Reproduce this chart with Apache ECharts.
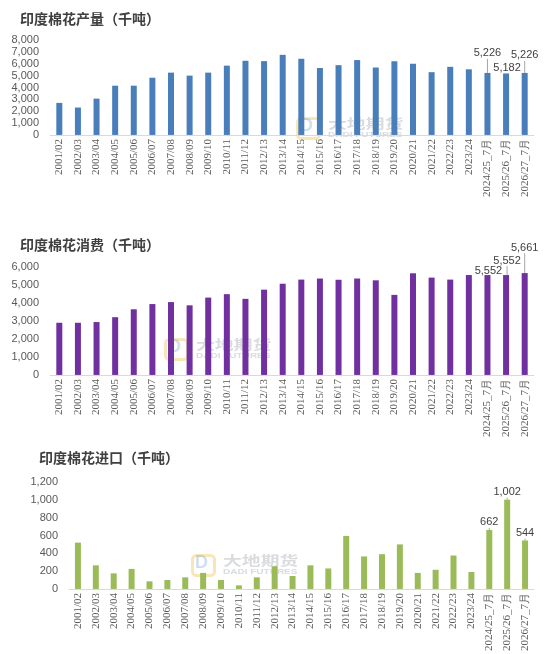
<!DOCTYPE html>
<html>
<head>
    <meta charset="utf-8">
    <title>印度棉花</title>
    <style type="text/css">
        body { margin: 0; background: #ffffff; }
        .box { position: absolute; left: 0; width: 550px; overflow: hidden; }
        #c1 { top: 0; height: 200px; }
        #c2 { top: 200px; height: 240px; }
        #c3 { top: 440px; height: 214px; }
    </style>
    <script src="https://cdn.jsdelivr.net/npm/echarts@6/dist/echarts.min.js"></script>
</head>
<body>
<div id="c1" class="box"></div>
<div id="c2" class="box"></div>
<div id="c3" class="box"></div>

<script>
    // 年度
    var seasons = ['2001/02','2002/03','2003/04','2004/05','2005/06','2006/07','2007/08','2008/09',
        '2009/10','2010/11','2011/12','2012/13','2013/14','2014/15','2015/16','2016/17','2017/18',
        '2018/19','2019/20','2020/21','2021/22','2022/23','2023/24','2024/25_7月','2025/26_7月','2026/27_7月'];

    // 产量（千吨）
    var production = [2700,2310,3060,4150,4150,4820,5250,5000,5250,5840,6250,6220,
        6750,6420,5640,5880,6310,5680,6210,6000,5290,5740,5530,5226,5182,5226];

    // 消费（千吨）
    var consumption = [2900,2900,2940,3210,3650,3940,4050,3870,4300,4490,4230,4740,
        5070,5300,5360,5290,5360,5260,4450,5650,5410,5300,5552,5552,5552,5661];

    // 进口（千吨）
    var imports = [520,265,175,225,85,100,130,180,100,40,130,255,
        145,265,230,595,365,390,500,180,215,375,190,662,1002,544];

    var gray = '#595959';

    function fmt(v) {
        return String(v).replace(/\B(?=(\d{3})+(?!\d))/g, ',');
    }

    // 水印（画在柱子下面）
    function watermark(x, y) {
        return [
            {type: 'rect', left: x, top: y, z: -10, silent: true,
                shape: {width: 22, height: 20, r: 4},
                style: {fill: 'none', stroke: 'rgba(240,200,100,0.45)', lineWidth: 3}},
            {type: 'text', left: x + 5, top: y + 1, z: -10, silent: true,
                style: {text: 'D', font: 'bold 18px "Liberation Sans"', fill: 'rgba(120,160,210,0.35)'}},
            {type: 'text', left: x + 33, top: y + 1, z: -10, silent: true, scaleX: 1.45,
                style: {text: '大地期货', font: 'bold 13px "Noto Sans CJK SC"', fill: 'rgba(130,135,145,0.3)'}},
            {type: 'text', left: x + 33, top: y + 15, z: -10, silent: true, scaleX: 1.25,
                style: {text: 'DADI FUTURES', font: 'bold 8px "Liberation Sans"', fill: 'rgba(130,135,145,0.3)'}}
        ];
    }

    function makeChart(id, o) {
        var chart = echarts.init(document.getElementById(id));
        var data = o.values.map(function (v, i) {
            return {value: v, label: {show: i >= o.values.length - 3}};
        });
        chart.setOption({
            animation: false,
            title: {
                text: o.title, left: o.titleLeft, top: o.titleTop, padding: 0,
                textStyle: {fontFamily: 'Noto Sans CJK SC', fontSize: 14, fontWeight: 'bold', color: '#404040'}
            },
            graphic: watermark(o.markX, o.markY),
            grid: {left: o.left, right: o.right, top: o.top, bottom: o.bottom},
            xAxis: {
                type: 'category',
                data: seasons,
                axisLine: {lineStyle: {color: '#d9d9d9'}},
                axisTick: {show: false},
                axisLabel: {
                    interval: 0, rotate: 90, margin: 4, color: gray,
                    fontFamily: 'Liberation Sans Narrow', fontSize: 11
                }
            },
            yAxis: {
                type: 'value',
                min: 0, max: o.max, interval: o.step,
                axisLine: {show: false},
                axisTick: {show: false},
                splitLine: {show: false},
                axisLabel: {
                    margin: 11, color: gray, fontFamily: 'Liberation Sans', fontSize: 11,
                    formatter: function (v) { return fmt(v); }
                }
            },
            series: [{
                type: 'bar',
                z: 50,
                barWidth: 6,
                data: data,
                itemStyle: {color: o.color},
                label: {
                    show: false, position: 'top', distance: 2,
                    color: '#404040', fontFamily: 'Liberation Sans', fontSize: 11,
                    formatter: function (p) { return fmt(p.value); }
                },
                labelLine: {show: true, lineStyle: {color: '#a6a6a6', width: 1}},
                labelLayout: function (p) {
                    var m = o.moves[p.dataIndex];
                    return m ? {dx: m[0], dy: m[1]} : {};
                }
            }]
        });
        return chart;
    }

    makeChart('c1', {
        title: '印度棉花产量（千吨）', titleLeft: 20, titleTop: 12,
        values: production, color: '#4a7ebb', max: 8000, step: 1000,
        left: 50, right: 16, top: 40, bottom: 49,
        markX: 295, markY: 116,
        moves: {23: [0, -12], 24: [1, 2], 25: [0, -10]}
    });

    makeChart('c2', {
        title: '印度棉花消费（千吨）', titleLeft: 20, titleTop: 38,
        values: consumption, color: '#7030a0', max: 6000, step: 1000,
        left: 50, right: 16, top: 67, bottom: 63,
        markX: 163, markY: 137,
        moves: {23: [1, 3], 24: [1, -7], 25: [0, -18]}
    });

    makeChart('c3', {
        title: '印度棉花进口（千吨）', titleLeft: 39, titleTop: 11,
        values: imports, color: '#9bbb59', max: 1200, step: 200,
        left: 69, right: 16, top: 42, bottom: 65,
        markX: 190, markY: 113,
        moves: {}
    });
</script>
</body>
</html>
